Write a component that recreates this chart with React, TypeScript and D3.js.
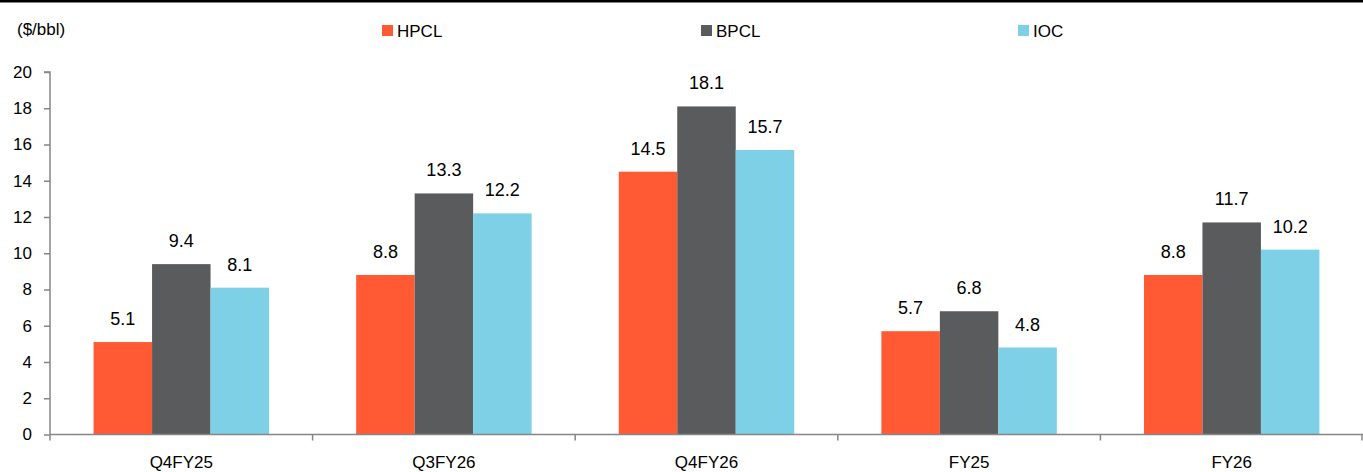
import React, { useEffect, useRef } from "react";
import * as d3 from "d3";

const categories = ["Q4FY25", "Q3FY26", "Q4FY26", "FY25", "FY26"];
const seriesNames = ["HPCL", "BPCL", "IOC"];
const hpcl = [5.1, 8.8, 14.5, 5.7, 8.8];
const bpcl = [9.4, 13.3, 18.1, 6.8, 11.7];
const ioc = [8.1, 12.2, 15.7, 4.8, 10.2];
const yTicks = [0, 2, 4, 6, 8, 10, 12, 14, 16, 18, 20];
const colors = ["#FF5A33", "#5A5B5D", "#7DD0E5"];

const App = () => {
  const svgRef = useRef<SVGSVGElement>(null);

  useEffect(() => {
    const width = 1363;
    const height = 472;
    const margin = { top: 72, right: 0, bottom: 37.5, left: 50 };
    const font = "'Liberation Sans', Arial, sans-serif";
    const axisColor = "#868686";

    const svg = d3.select(svgRef.current);
    svg.selectAll("*").remove();
    svg.attr("width", width).attr("height", height).style("background", "#fff");

    const values = [hpcl, bpcl, ioc];

    const x0 = d3.scaleBand()
      .domain(categories)
      .range([margin.left, width - margin.right])
      .paddingInner(0)
      .paddingOuter(0);

    const x1 = d3.scaleBand()
      .domain(seriesNames)
      .range([0, x0.bandwidth()])
      .paddingOuter(0.745)
      .paddingInner(0);

    const y = d3.scaleLinear()
      .domain([0, 20])
      .range([height - margin.bottom, margin.top]);

    // top border
    svg.append("rect")
      .attr("x", 0).attr("y", 0)
      .attr("width", width).attr("height", 2.5)
      .attr("fill", "#000");

    // unit label
    svg.append("text")
      .attr("x", 17).attr("y", 35)
      .attr("font-family", font).attr("font-size", 17)
      .attr("fill", "#000")
      .text("($/bbl)");

    // bars
    const groups = svg.selectAll(".grp")
      .data(categories)
      .join("g")
      .attr("class", "grp")
      .attr("transform", (d) => `translate(${x0(d)},0)`);

    groups.selectAll("rect")
      .data((d, i) => seriesNames.map((s, j) => ({ s, v: values[j][i], j })))
      .join("rect")
      .attr("x", (d) => x1(d.s)!)
      .attr("y", (d) => y(d.v))
      .attr("width", x1.bandwidth())
      .attr("height", (d) => y(0) - y(d.v))
      .attr("fill", (d) => colors[d.j]);

    groups.selectAll("text")
      .data((d, i) => seriesNames.map((s, j) => ({ s, v: values[j][i], j })))
      .join("text")
      .attr("x", (d) => x1(d.s)! + x1.bandwidth() / 2)
      .attr("y", (d) => y(d.v) - 17)
      .attr("text-anchor", "middle")
      .attr("font-family", font).attr("font-size", 18)
      .attr("fill", "#000")
      .text((d) => d.v.toFixed(1));

    // y axis
    const yAxis = svg.append("g")
      .attr("transform", `translate(${margin.left},0)`)
      .call(d3.axisLeft(y).tickValues(yTicks).tickSize(6).tickPadding(12).tickFormat(d3.format("d")));
    yAxis.select(".domain").attr("stroke", axisColor).attr("stroke-width", 1.5).attr("d", `M-6,${y(20)}H0V${y(0)}`);
    yAxis.selectAll(".tick line").attr("stroke", axisColor).attr("stroke-width", 1.5);
    yAxis.selectAll(".tick text")
      .attr("font-family", font).attr("font-size", 17).attr("fill", "#000");

    // x axis
    const xAxis = svg.append("g")
      .attr("transform", `translate(0,${y(0)})`);
    xAxis.append("line")
      .attr("x1", margin.left).attr("x2", width)
      .attr("stroke", axisColor).attr("stroke-width", 1.5);
    xAxis.selectAll(".xt")
      .data([...categories.map((c) => x0(c)!), width - 1])
      .join("line")
      .attr("class", "xt")
      .attr("x1", (d) => d).attr("x2", (d) => d)
      .attr("y1", 0).attr("y2", 6)
      .attr("stroke", axisColor).attr("stroke-width", 1.5);
    xAxis.selectAll(".xl")
      .data(categories)
      .join("text")
      .attr("class", "xl")
      .attr("x", (d) => x0(d)! + x0.bandwidth() / 2)
      .attr("y", 33)
      .attr("text-anchor", "middle")
      .attr("font-family", font).attr("font-size", 17)
      .attr("fill", "#000")
      .text((d) => d);

    // legend
    const legendX = [382, 701, 1018];
    const legend = svg.selectAll(".lg")
      .data(seriesNames)
      .join("g")
      .attr("class", "lg")
      .attr("transform", (d, i) => `translate(${legendX[i]},25)`);
    legend.append("rect")
      .attr("width", 11).attr("height", 11)
      .attr("fill", (d, i) => colors[i]);
    legend.append("text")
      .attr("x", 15).attr("y", 12)
      .attr("font-family", font).attr("font-size", 17)
      .attr("fill", "#000")
      .text((d) => d);
  }, []);

  return (
    <div style={{ position: "absolute", left: 0, top: 0 }}>
      <svg ref={svgRef} />
    </div>
  );
};

export default App;
